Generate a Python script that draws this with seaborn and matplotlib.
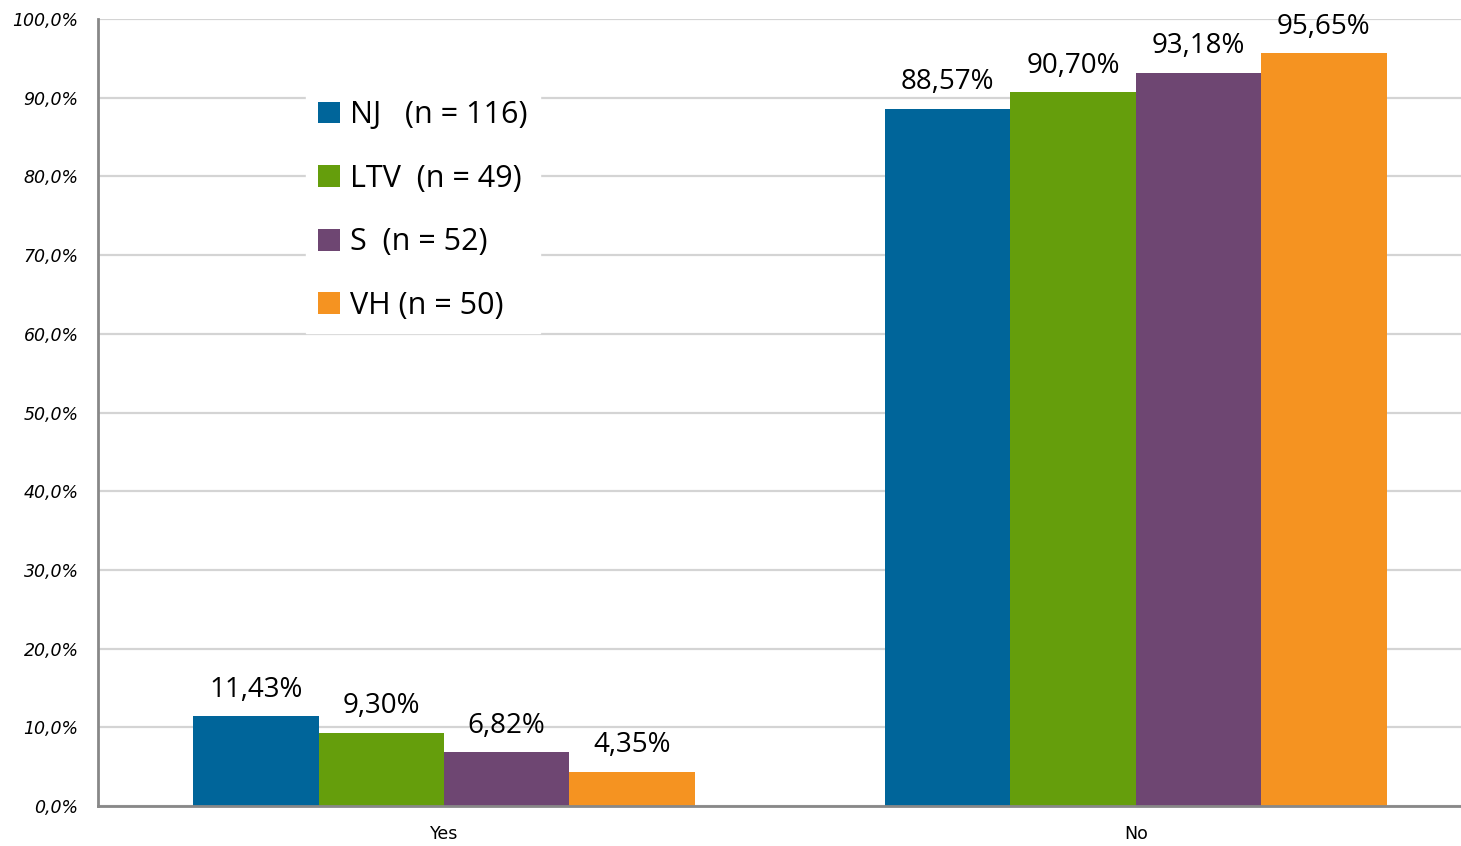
import matplotlib
matplotlib.use("Agg")
import matplotlib.pyplot as plt
import seaborn as sns
import pandas as pd
from matplotlib.ticker import FuncFormatter, FixedLocator
from matplotlib.patches import Patch

categories = ["Yes", "No"]
series = ["NJ", "LTV", "S", "VH"]
legend_labels = ["NJ   (n = 116)", "LTV  (n = 49)", "S  (n = 52)", "VH (n = 50)"]
nj = [11.43, 88.57]
ltv = [9.30, 90.70]
s_vals = [6.82, 93.18]
vh = [4.35, 95.65]
colors = ["#00659A", "#659E0C", "#6E4672", "#F59321"]
yticks = [0, 10, 20, 30, 40, 50, 60, 70, 80, 90, 100]

values = {"NJ": nj, "LTV": ltv, "S": s_vals, "VH": vh}
rows = []
for ser in series:
    for cat, v in zip(categories, values[ser]):
        rows.append({"cat": cat, "series": ser, "value": v})
df = pd.DataFrame(rows)

sns.set_style("white")
plt.rcParams['font.family'] = ['DejaVu Sans']
plt.rcParams['text.color'] = 'black'
plt.rcParams['xtick.labelcolor'] = 'black'
plt.rcParams['ytick.labelcolor'] = 'black'

fig = plt.figure(figsize=(14.61, 8.46), dpi=100)
ax = fig.add_axes([98 / 1461, 1 - 806 / 846, 1 - 98 / 1461, (806 - 19) / 846])

sns.barplot(data=df, x="cat", y="value", hue="series", order=categories,
            hue_order=series, palette=colors, width=0.725, saturation=1,
            linewidth=0, ax=ax, legend=False, zorder=3)

ax.set_ylim(0, 100)
ax.set_xlim(-0.5, 1.47)
ax.set_yticks(yticks)
ax.yaxis.set_major_formatter(FuncFormatter(lambda v, p: f"{v:.1f}%".replace(".", ",")))
ax.grid(axis="y", color="#d4d4d4", linewidth=1.6, zorder=0)
ax.set_axisbelow(True)
ax.set_xlabel("")
ax.set_ylabel("")

for side in ["top", "right"]:
    ax.spines[side].set_visible(False)
for side in ["left", "bottom"]:
    ax.spines[side].set_color("#888888")
    ax.spines[side].set_linewidth(2)
    ax.spines[side].set_zorder(4)

ax.tick_params(axis="y", which="major", length=6, width=1.6, color="#888888",
               direction="out", labelsize=12.5, pad=8, labelcolor="black")
for lab in ax.get_yticklabels():
    lab.set_fontstyle("italic")
ax.xaxis.set_minor_locator(FixedLocator([-0.5, 0.5, 1.5]))
ax.tick_params(axis="x", which="minor", length=12, width=1.6, color="#888888",
               direction="inout")
ax.tick_params(axis="x", which="major", length=5, width=1.6, color="#888888",
               direction="out", labelsize=12.5, pad=9, labelcolor="black")

for cont, ser in zip(ax.containers, series):
    labels = [f"{v:.2f}%".replace(".", ",") for v in values[ser]]
    ax.bar_label(cont, labels=labels, padding=9, fontsize=20,
                 family=["Open Sans", "DejaVu Sans"], color="black")

handles = [Patch(facecolor=c, edgecolor="none") for c in colors]
leg = ax.legend(handles, legend_labels, loc="upper left",
                bbox_to_anchor=(306 / 1461, 1 - 88 / 846), bbox_transform=fig.transFigure,
                frameon=True, fancybox=False, facecolor="white", edgecolor="white",
                framealpha=1, prop={"family": ["Open Sans", "DejaVu Sans"], "size": 22},
                handlelength=0.72, handleheight=0.72, handletextpad=0.33,
                labelspacing=1.1, borderpad=0.4, borderaxespad=0, labelcolor="black")
leg.set_zorder(5)

fig.savefig("out.png", dpi=100, facecolor="white")
